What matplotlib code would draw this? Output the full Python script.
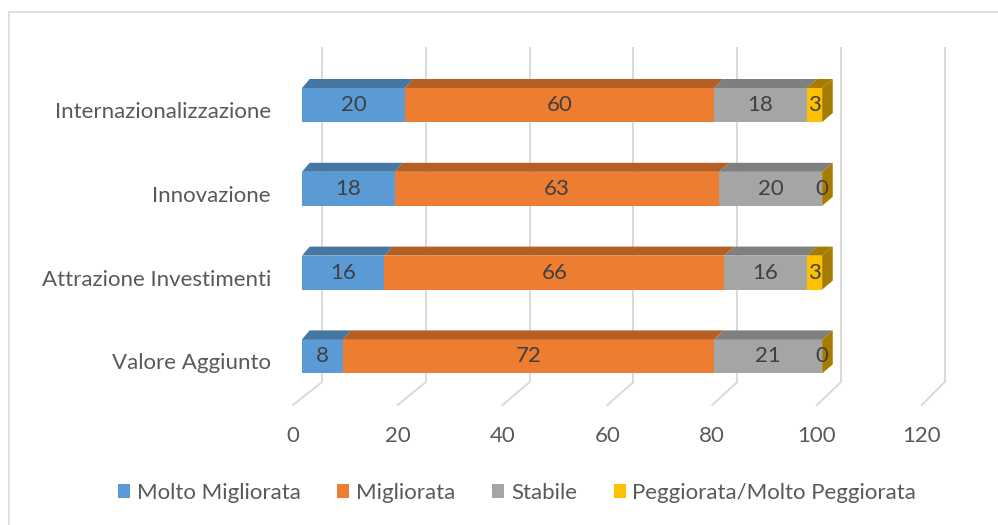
import matplotlib
matplotlib.use("Agg")
import matplotlib.pyplot as plt
from matplotlib.patches import Polygon, Patch, Rectangle

categories = ["Valore Aggiunto", "Attrazione Investimenti", "Innovazione", "Internazionalizzazione"]
series_names = ["Molto Migliorata", "Migliorata", "Stabile", "Peggiorata/Molto Peggiorata"]
molto_migliorata = [8, 16, 18, 20]
migliorata = [72, 66, 63, 60]
stabile = [21, 16, 20, 18]
peggiorata = [0, 3, 0, 3]
x_ticks = [0, 20, 40, 60, 80, 100, 120]

front_colors = ["#5B9BD5", "#ED7D31", "#A5A5A5", "#FFC000"]
top_colors = ["#4677A3", "#B65F25", "#7F7F7F", "#A67C00"]

W, H = 998, 525
fig = plt.figure(figsize=(W / 100, H / 100), dpi=100)
ax = fig.add_axes([0, 0, 1, 1])

# pixel geometry -> data mapping
PX_PER_UNIT = 5.15
X0_PX = 302
ROW_PX = 83.8
ROW0_PX = 105 + 3 * ROW_PX  # center of bottom category (from top)
ax.set_xlim(-X0_PX / PX_PER_UNIT, (W - X0_PX) / PX_PER_UNIT)
ax.set_ylim(-(H - ROW0_PX) / ROW_PX, ROW0_PX / ROW_PX)
ax.axis("off")

def px_x(p):  # pixel offset -> data units
    return p / PX_PER_UNIT

def px_y(p):
    return p / ROW_PX

FONT = "Lato"
fs = 16
grid_c = "#D9D9D9"

# back wall gridlines and floor diagonals
back_off, back_scale = px_x(20), 5.19 / PX_PER_UNIT
front_off, front_scale = px_x(-9), 5.24 / PX_PER_UNIT
wall_top = (ROW0_PX - 47) / ROW_PX
wall_bottom = (ROW0_PX - 382) / ROW_PX
floor_front = (ROW0_PX - 405) / ROW_PX
for g in x_ticks:
    xb = back_off + back_scale * g
    xf = front_off + front_scale * g
    ax.plot([xb, xb], [wall_bottom, wall_top], color=grid_c, lw=1.4, zorder=1, solid_capstyle="butt")
    ax.plot([xb, xf], [wall_bottom, floor_front], color=grid_c, lw=1.4, zorder=1)
    ax.text(xf, (ROW0_PX - 436) / ROW_PX, str(g), ha="center", va="center",
            fontsize=fs, color="#595959", family=FONT)

bar_h = px_y(34)
dy = px_y(9)

def dx(x):
    return px_x(7.7 + 2.9 * x / 101)

series = [molto_migliorata, migliorata, stabile, peggiorata]
for i, cat in enumerate(categories):
    left = 0
    yb = i - bar_h / 2
    yt = i + bar_h / 2
    for s, vals in enumerate(series):
        v = vals[i]
        ax.barh(i, v, left=left, height=bar_h, color=front_colors[s], zorder=3, linewidth=0)
        x1 = left + v
        top = Polygon([(left, yt), (x1, yt), (x1 + dx(x1), yt + dy), (left + dx(left), yt + dy)],
                      closed=True, facecolor=top_colors[s], edgecolor="none", zorder=3)
        ax.add_patch(top)
        ax.text(left + v / 2, i, str(v), ha="center", va="center", fontsize=fs,
                color="#404040", family=FONT, zorder=5)
        left = x1
    side = Polygon([(left, yb), (left, yt), (left + dx(left), yt + dy), (left + dx(left), yb + dy)],
                   closed=True, facecolor=top_colors[-1], edgecolor="none", zorder=3)
    ax.add_patch(side)
    ax.text(px_x(-31), i - px_y(7), cat, ha="right", va="center", fontsize=fs,
            color="#595959", family=FONT)

handles = [Patch(facecolor=c, edgecolor="none") for c in front_colors]
fig.legend(handles, series_names, loc="center", bbox_to_anchor=(517 / W, 1 - 493 / H), ncol=4,
           frameon=False, handlelength=0.55, handleheight=0.55, handletextpad=0.3,
           columnspacing=1.65, prop={"family": FONT, "size": fs}, labelcolor="#595959")

fig.patches.append(Rectangle((9 / W, -0.5), 2, 1.5 - 12 / H, transform=fig.transFigure,
                             fill=False, edgecolor="#D9D9D9", lw=1.2))

fig.savefig("out.png", dpi=100)
